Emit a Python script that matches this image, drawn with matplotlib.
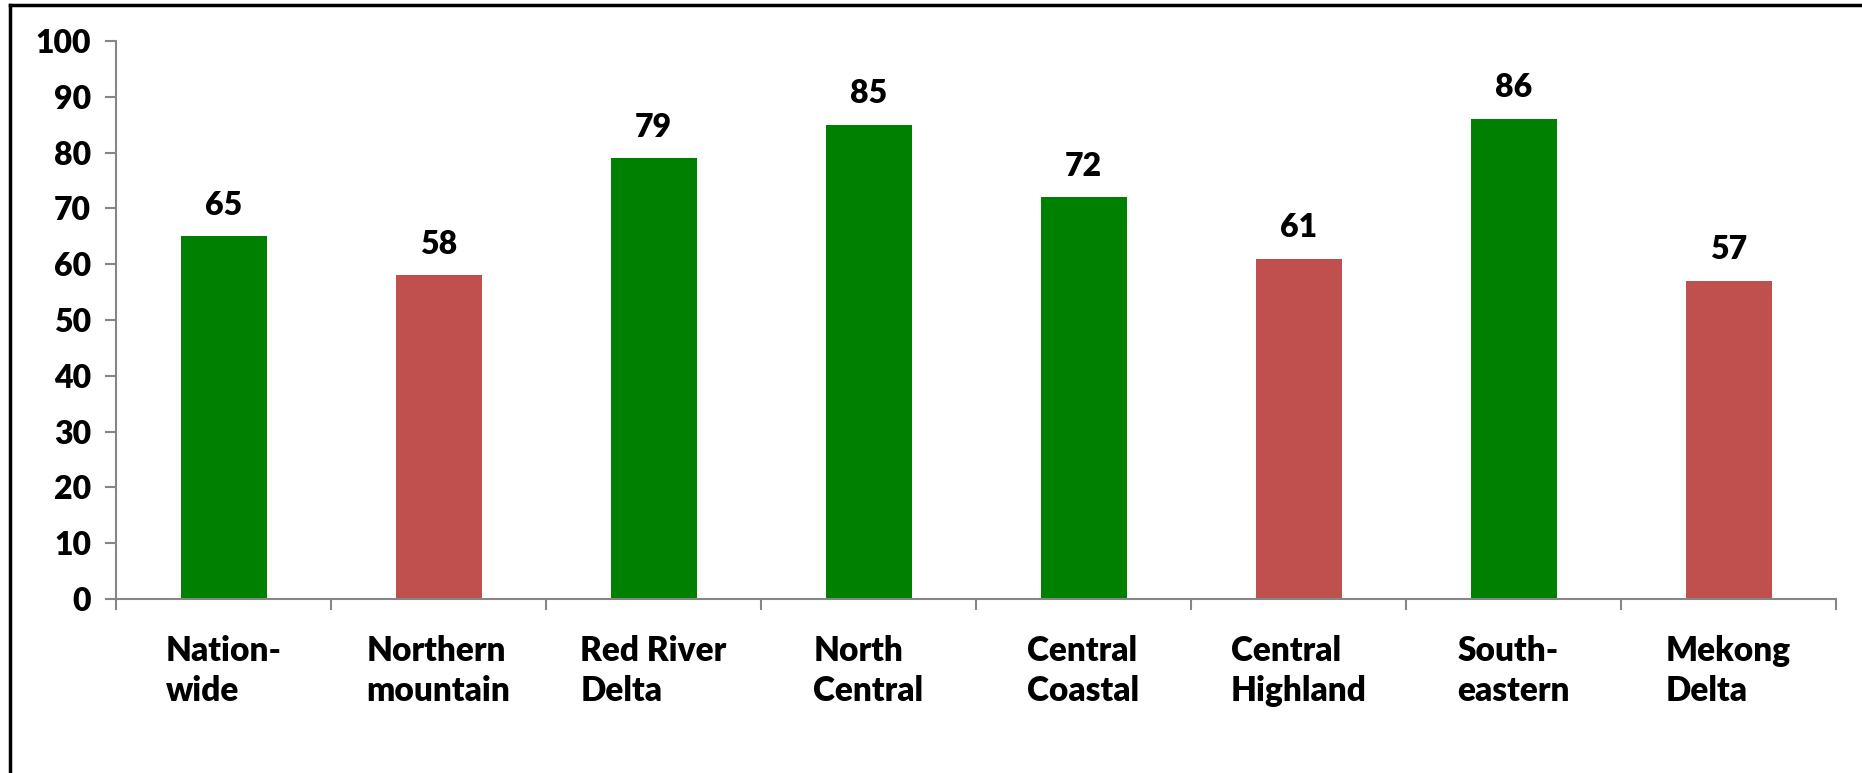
import matplotlib
matplotlib.use('Agg')
import matplotlib.pyplot as plt
from matplotlib.lines import Line2D
import numpy as np

plt.rcParams['font.family'] = ['Lato', 'DejaVu Sans']
plt.rcParams['font.weight'] = 'heavy'

# data
regions = ['Nation-\nwide', 'Northern\nmountain', 'Red River\nDelta', 'North\nCentral',
           'Central\nCoastal', 'Central\nHighland', 'South-\neastern', 'Mekong\nDelta']
values = [65, 58, 79, 85, 72, 61, 86, 57]
above_avg = [True, False, True, True, True, False, True, False]

GREEN = '#008000'
RED = '#C0504D'
AXIS = '#868686'

W, H = 1862, 773
fig = plt.figure(figsize=(W / 100, H / 100), dpi=100)
ax = fig.add_axes([116 / W, 1 - 599 / H, (1836 - 116) / W, (599 - 41) / H])

x = np.arange(len(values))
colors = [GREEN if a else RED for a in above_avg]
bars = ax.bar(x, values, width=0.4, color=colors)

for b, v in zip(bars, values):
    ax.annotate(str(v), (b.get_x() + b.get_width() / 2, v), xytext=(0, 12),
                textcoords='offset points', ha='center', va='bottom',
                fontsize=23, fontweight='heavy', color='black')

ax.set_xlim(-0.5, len(values) - 0.5)
ax.set_ylim(0, 100)
ax.set_yticks(np.arange(0, 101, 10))
ax.tick_params(axis='y', labelsize=23, length=8, width=1.5, color=AXIS, pad=10)

# category labels at centres, tick marks at boundaries
ax.set_xticks(x)
ax.set_xticklabels(regions, fontsize=24, fontweight='heavy', multialignment='left',
                   linespacing=1.3)
ax.tick_params(axis='x', length=0, pad=26)
ax.set_xticks(np.arange(-0.5, len(values)), minor=True)
ax.tick_params(axis='x', which='minor', length=8, width=1.5, color=AXIS)

for s in ['top', 'right']:
    ax.spines[s].set_visible(False)
for s in ['left', 'bottom']:
    ax.spines[s].set_color(AXIS)
    ax.spines[s].set_linewidth(1.5)

# outer frame (top and left edges)
fig.add_artist(Line2D([10 / W, 1.0], [1 - 5 / H, 1 - 5 / H], color='black', lw=2.5,
                      transform=fig.transFigure))
fig.add_artist(Line2D([10 / W, 10 / W], [0, 1 - 5 / H], color='black', lw=2.5,
                      transform=fig.transFigure))

fig.savefig('out.png', dpi=100)
